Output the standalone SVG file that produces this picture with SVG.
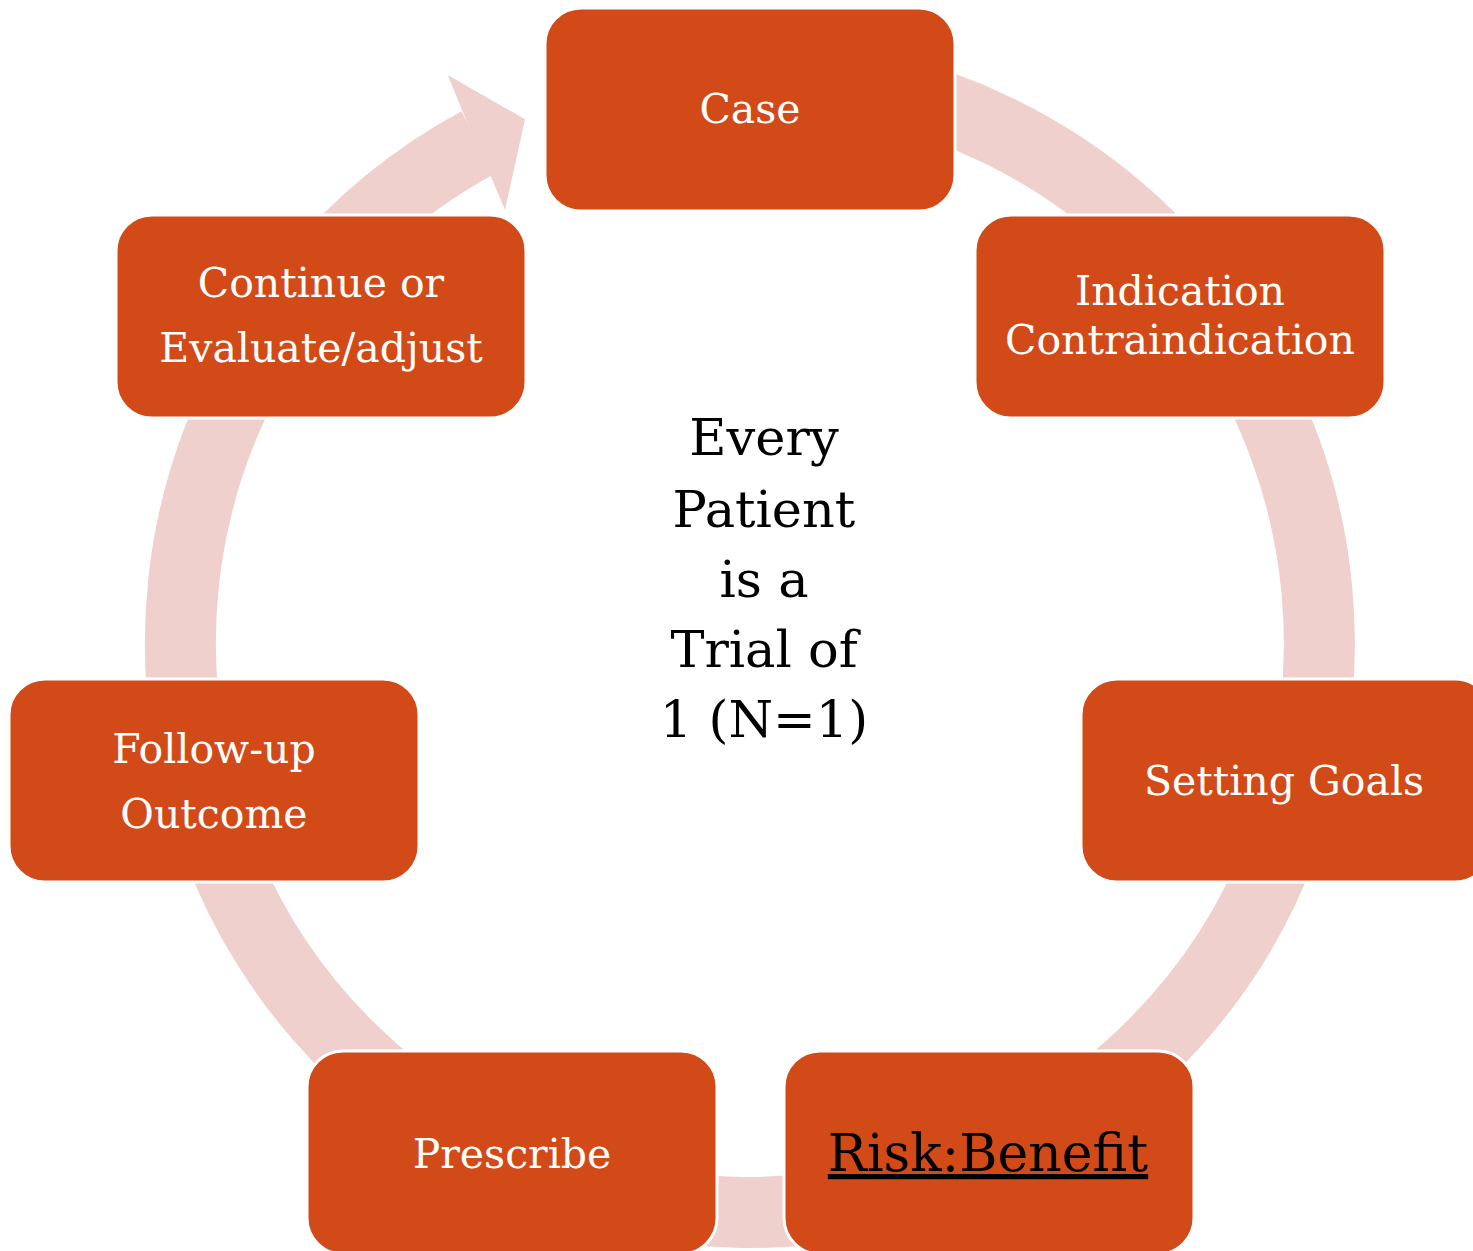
<svg xmlns="http://www.w3.org/2000/svg" width="1473" height="1251" viewBox="0 0 1473 1251">
  <style>
    .box { fill: #D24A18; stroke: #FFFFFF; stroke-width: 3; }
    .lbl { font-family: "DejaVu Serif", "Liberation Serif", serif; font-size: 41px; fill: #FFFFFF; text-anchor: middle; }
    .ring { fill: none; stroke: #EFD0CD; stroke-width: 71; stroke-linecap: butt; }
    .center { font-family: "DejaVu Serif", "Liberation Serif", serif; font-size: 51px; fill: #000000; text-anchor: middle; }
  </style>
  <rect width="1473" height="1251" fill="#FFFFFF"/>

  <!-- cycle ring with arrowhead pointing back to Case -->
  <g id="connectors">
    <path class="ring" d="M 750 73.5 A 569.5 569.5 0 1 1 478.3 142.4"/>
    <polygon fill="#EFD0CD" points="462,110 447.7,75 525,119.3 505,210 490.7,176"/>
  </g>

  <g id="case">
    <rect class="box" x="545" y="8" width="410" height="203" rx="36"/>
    <text class="lbl" x="750" y="123">Case</text>
  </g>

  <g id="indication">
    <rect class="box" x="975" y="215" width="410" height="203" rx="36"/>
    <text class="lbl" x="1180" y="305">Indication</text>
    <text class="lbl" x="1180" y="354">Contraindication</text>
  </g>

  <g id="setting-goals">
    <rect class="box" x="1081" y="679" width="410" height="203" rx="36"/>
    <text class="lbl" x="1284" y="795">Setting Goals</text>
  </g>

  <g id="risk-benefit">
    <rect class="box" x="784" y="1051" width="410" height="203" rx="36"/>
    <text x="988" y="1171" font-family="DejaVu Serif, Liberation Serif, serif" font-size="52" fill="#000000" text-anchor="middle" text-decoration="underline">Risk:Benefit</text>
  </g>

  <g id="prescribe">
    <rect class="box" x="307" y="1051" width="410" height="203" rx="36"/>
    <text class="lbl" x="512" y="1168">Prescribe</text>
  </g>

  <g id="follow-up">
    <rect class="box" x="9" y="679" width="410" height="203" rx="36"/>
    <text class="lbl" x="214" y="763">Follow-up</text>
    <text class="lbl" x="214" y="828">Outcome</text>
  </g>

  <g id="continue">
    <rect class="box" x="116" y="215" width="410" height="203" rx="36"/>
    <text class="lbl" x="321" y="297">Continue or</text>
    <text class="lbl" x="321" y="362">Evaluate/adjust</text>
  </g>

  <g id="center-note">
    <text class="center" x="764" y="455">Every</text>
    <text class="center" x="764" y="527">Patient</text>
    <text class="center" x="764" y="597">is a</text>
    <text class="center" x="764" y="667">Trial of</text>
    <text class="center" x="764" y="737">1 (N=1)</text>
  </g>
</svg>
